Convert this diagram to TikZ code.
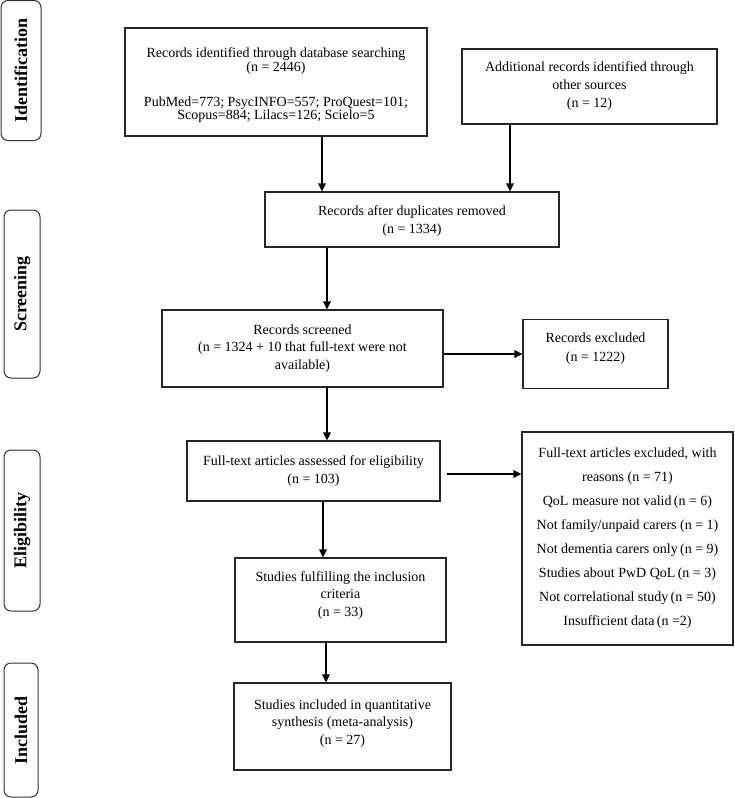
\documentclass[tikz,border=0pt]{standalone}
\usepackage{fontspec}
\setmainfont{Liberation Serif}
\usetikzlibrary{arrows.meta,calc}
\newcommand{\uptxt}[1]{\rule[-#1pt]{0pt}{0pt}}
\newcommand{\dntxt}[1]{\rule{0pt}{#1pt}}
\begin{document}
\begin{tikzpicture}[x=1pt,y=-1pt,
 box/.style={draw=black!85, line width=1.1pt, inner sep=0pt, align=center, font=\fontsize{14}{17.5}\selectfont},
 side/.style={draw=black!80, line width=1pt, rounded corners=7pt, inner sep=0pt, font=\fontsize{18}{20}\bfseries\selectfont, rotate=90},
 arr/.style={line width=1.5pt, -{Triangle[length=8pt,width=7.5pt]}}]
\useasboundingbox (0,0) rectangle (734,798);

% side labels
\node[side, minimum width=140pt, minimum height=40pt] (sid) at (21,70.5) {Identification};
\node[side, minimum width=168pt, minimum height=36pt] (scr) at (22,294) {Screening};
\node[side, minimum width=161pt, minimum height=36pt] (eli) at (22,530.5) {Eligibility};
\node[side, minimum width=134pt, minimum height=34pt] (inc) at (21,730) {Included};

% boxes
\node[box, minimum width=302pt, minimum height=108pt, font=\fontsize{14}{13.5}\selectfont] (db) at (276,82)
 {\dntxt{16}Records identified through database searching\\(n = 2446)\\[21.5pt]PubMed=773; PsycINFO=557; ProQuest=101;\\Scopus=884; Lilacs=126; Scielo=5};
\node[box, minimum width=255pt, minimum height=75pt, font=\fontsize{14}{18}\selectfont] (add) at (589.5,86.5)
 {Additional records identified through\\other sources\\(n = 12)};
\node[box, minimum width=294pt, minimum height=55pt, font=\fontsize{14}{18}\selectfont] (dup) at (412,219.5)
 {\dntxt{12.5}Records after duplicates removed\\(n = 1334)};
\node[box, minimum width=281pt, minimum height=77pt] (scrn) at (302.5,348.5)
 {Records screened\\(n = 1324 + 10 that full-text were not\\available)};
\node[box, minimum width=145pt, minimum height=69pt, font=\fontsize{14}{19}\selectfont] (exc) at (595.5,354)
 {Records excluded\\(n = 1222)\uptxt{13}};
\node[box, minimum width=253pt, minimum height=60pt] (ft) at (313.5,471)
 {Full-text articles assessed for eligibility\\(n = 103)};
\node[box, minimum width=211pt, minimum height=84pt] (ful) at (340.5,600)
 {Studies fulfilling the inclusion\\criteria\\(n = 33)\uptxt{12}};
\node[box, minimum width=211pt, minimum height=213pt, font=\fontsize{14}{24}\selectfont] (ftx) at (627.5,538.5)
 {Full-text articles excluded, with\\reasons (n = 71)\\QoL measure not valid\,(n = 6)\\Not family/unpaid carers (n = 1)\\Not dementia carers only\,(n = 9)\\Studies about PwD QoL\,(n = 3)\\Not correlational study\,(n = 50)\\Insufficient data\,(n =2)};
\node[box, minimum width=217pt, minimum height=87pt] (qs) at (342.5,726.5)
 {Studies included in quantitative\\synthesis (meta-analysis)\\(n = 27)\uptxt{9}};

% connectors
\draw[arr] (322,0 |- db.south) -- (322,0 |- dup.north);
\draw[arr] (510,0 |- add.south) -- (510,0 |- dup.north);
\draw[arr] (327,0 |- dup.south) -- (327,0 |- scrn.north);
\draw[arr] (scrn.east |- exc.west) -- (exc.west);
\draw[arr] (327,0 |- scrn.south) -- (327,0 |- ft.north);
\draw[arr] ($(ft.east)+(6,3)$) -- ($(ft.east -| ftx.west)+(0,3)$);
\draw[arr] (323,0 |- ft.south) -- (323,0 |- ful.north);
\draw[arr] (326,0 |- ful.south) -- (326,0 |- qs.north);
\end{tikzpicture}
\end{document}
